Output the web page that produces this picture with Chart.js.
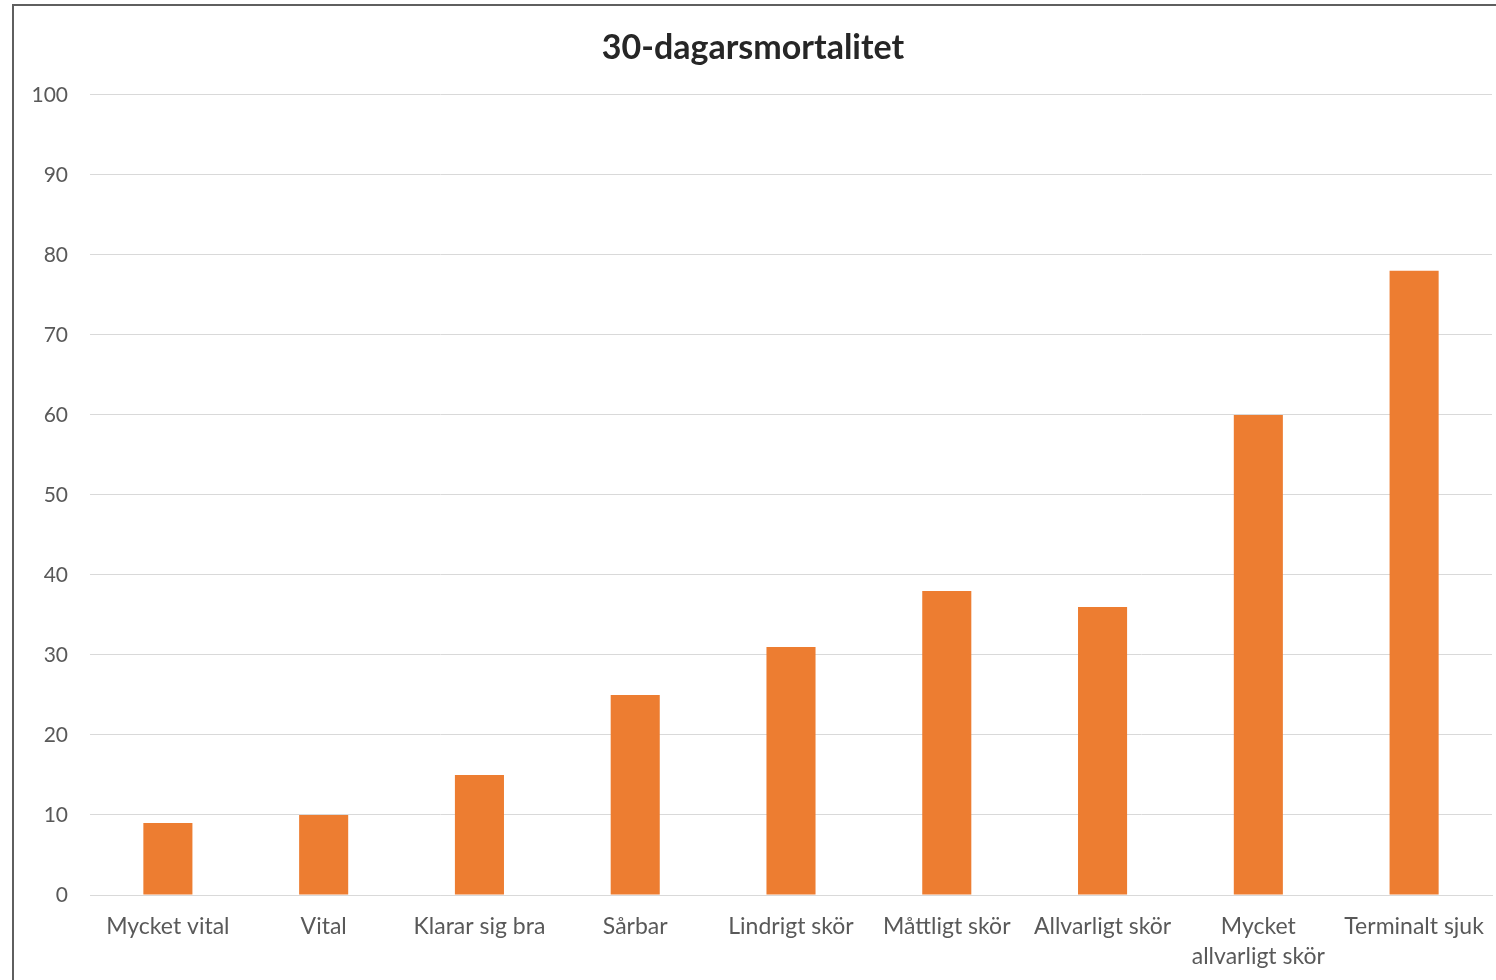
<!DOCTYPE html>
<html>
<head>
<meta charset="utf-8">
<script src="https://cdn.jsdelivr.net/npm/chart.js@4"></script>
<style>
  html, body { margin: 0; padding: 0; background: #fff; overflow: hidden; }
  .frame {
    position: absolute; left: 12px; top: 4px;
    width: 1484px; height: 976px;
    border-top: 2px solid #5f5f5f; border-left: 2px solid #5f5f5f;
  }
  .frame canvas { display: block; }
</style>
</head>
<body>
<div class="frame"><canvas id="myChart" width="1482" height="974"></canvas></div>
<script>
const categories = [
  "Mycket vital",
  "Vital",
  "Klarar sig bra",
  "Sårbar",
  "Lindrigt skör",
  "Måttligt skör",
  "Allvarligt skör",
  ["Mycket", "allvarligt skör"],
  "Terminalt sjuk",
];
const mortality = [9, 10, 15, 25, 31, 38, 36, 60, 78];
const yTicks = [0, 10, 20, 30, 40, 50, 60, 70, 80, 90, 100];

const ctx = document.getElementById("myChart");

new Chart(ctx, {
  type: "bar",
  data: {
    labels: categories,
    datasets: [
      {
        label: "30-dagarsmortalitet",
        data: mortality,
        backgroundColor: "#ED7D31",
        borderWidth: 0,
        categoryPercentage: 1,
        barPercentage: 0.315,
      },
    ],
  },
  options: {
    responsive: false,
    animation: false,
    layout: { padding: { left: 0, right: 4, top: 1, bottom: 0 } },
    plugins: {
      legend: { display: false },
      tooltip: { enabled: false },
      title: {
        display: true,
        text: "30-dagarsmortalitet",
        color: "#262626",
        font: { family: "Lato", size: 34, weight: "bold", lineHeight: 1.2 },
        padding: { top: 21, bottom: 26 },
      },
    },
    scales: {
      y: {
        min: 0,
        max: 100,
        afterBuildTicks: (scale) => {
          scale.ticks = yTicks.map((v) => ({ value: v }));
        },
        afterFit: (scale) => {
          scale.width = 76;
        },
        border: { display: false },
        grid: { color: "#D9D9D9", lineWidth: 1, drawTicks: false },
        ticks: {
          padding: 22,
          color: "#595959",
          font: { family: "Lato", size: 21 },
        },
      },
      x: {
        afterFit: (scale) => {
          scale.height = 85;
          scale.paddingLeft = 0;
          scale.paddingRight = 0;
        },
        border: { display: true, color: "#D9D9D9" },
        grid: { display: false, drawTicks: false },
        ticks: {
          padding: 17,
          maxRotation: 0,
          autoSkip: false,
          color: "#595959",
          font: { family: "Lato", size: 23, lineHeight: 1.3 },
        },
      },
    },
  },
});
</script>
</body>
</html>
